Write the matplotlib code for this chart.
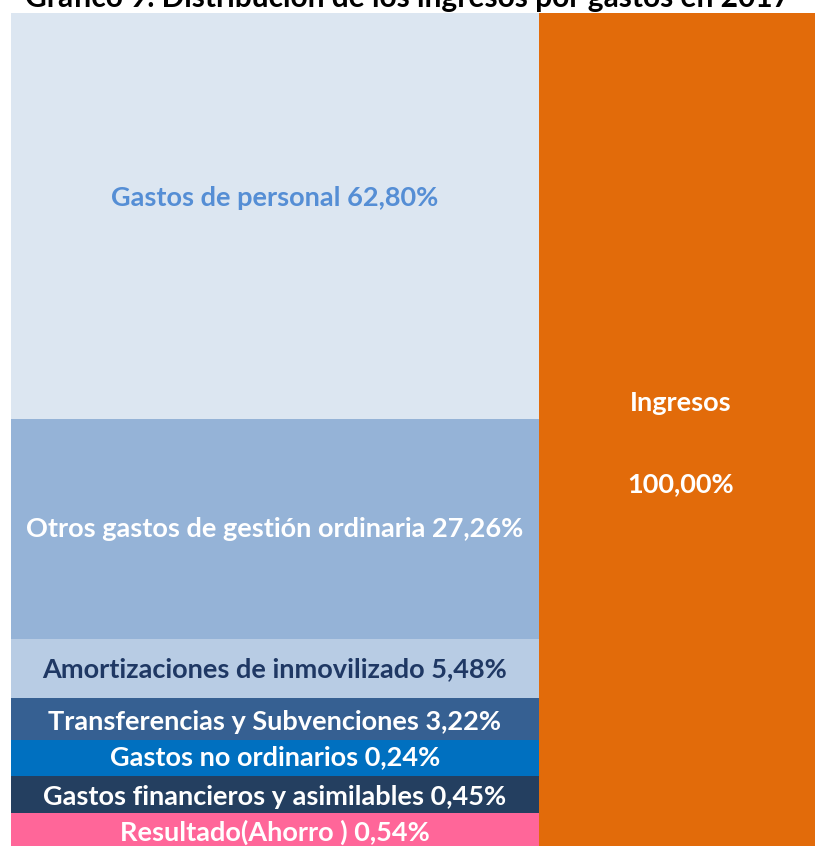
import matplotlib
matplotlib.use("Agg")
import matplotlib.pyplot as plt

# ---- data ----
categories = ["Gastos", "Ingresos"]
expense_labels = [
    "Gastos de personal",
    "Otros gastos de gestión ordinaria",
    "Amortizaciones de inmovilizado",
    "Transferencias y Subvenciones",
    "Gastos no ordinarios",
    "Gastos financieros y asimilables",
    "Resultado(Ahorro )",
]
expense_pct_text = ["62,80%", "27,26%", "5,48%", "3,22%", "0,24%", "0,45%", "0,54%"]
# plotted segment heights (not proportional to the labels)
expense_heights = [48.4, 26.2, 7.0, 5.1, 4.2, 4.5, 4.6]
income_label = "Ingresos"
income_pct_text = "100,00%"
income_height = [100.0]
title = "Gráfico 9. Distribución de los ingresos por gastos en 2017"

# ---- styles ----
seg_colors = ["#DCE6F1", "#95B3D7", "#B8CCE4", "#366092", "#0070C0", "#243F60", "#FF6699"]
text_colors = ["#558ED5", "white", "#1F3864", "white", "white", "white", "white"]
label_offsets = [18, 0, -1, -3, 1, -2, 0]  # px upward shift
income_color = "#E26B0A"
FS = 19.5

W, H = 815, 846
fig = plt.figure(figsize=(W / 100, H / 100), dpi=100)
plt.rcParams["font.family"] = ["Lato", "DejaVu Sans"]

top_px, bottom_px = 13, 852
left_px, split_px = 11, 539
ax = fig.add_axes([left_px / W, (H - bottom_px) / H, (W - left_px) / W, (bottom_px - top_px) / H])

# stack from top: first label at top
bottoms = []
acc = sum(expense_heights)
for h in expense_heights:
    acc -= h
    bottoms.append(acc)

for h, b, c in zip(expense_heights, bottoms, seg_colors):
    ax.bar(0, h, bottom=b, width=1.0, color=c, linewidth=0)
ax.bar(1, income_height[0], width=1.0, color=income_color, linewidth=0)

px_per_unit = (bottom_px - top_px) / 100.0
for lab, pct, h, b, tc, off in zip(expense_labels, expense_pct_text, expense_heights,
                                   bottoms, text_colors, label_offsets):
    y = b + h / 2 + off / px_per_unit
    ax.text(0, y, f"{lab} {pct}", ha="center", va="center", color=tc,
            fontsize=FS, fontweight="bold")

unit_px = split_px - left_px
x_income = 0.5 + (681 - split_px) / unit_px
ax.text(x_income, 100 - (403 - top_px) / px_per_unit, income_label,
        ha="center", va="center", color="white", fontsize=FS, fontweight="bold")
ax.text(x_income, 100 - (484 - top_px) / px_per_unit, income_pct_text,
        ha="center", va="center", color="white", fontsize=FS, fontweight="bold")

ax.set_xlim(-0.5, 0.5 + (W - split_px) / unit_px)
ax.set_ylim(0, 100)
ax.axis("off")

fig.text(0.5, 1 - 7 / H, title, ha="center", va="baseline", fontsize=21.5,
         fontweight="bold", color="black")

fig.savefig("out.png", dpi=100)
